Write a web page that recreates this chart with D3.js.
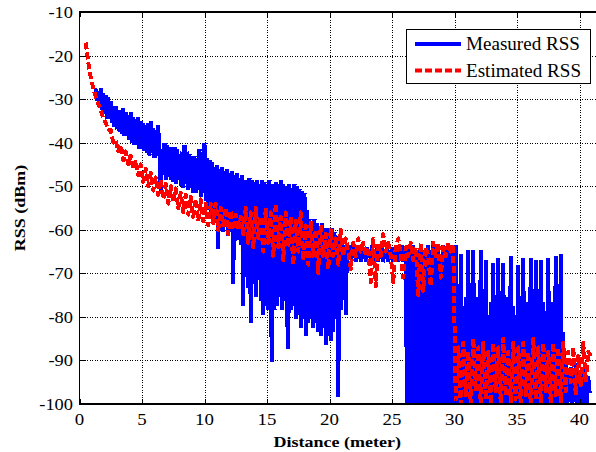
<!DOCTYPE html>
<html><head><meta charset="utf-8">
<script src="https://cdn.jsdelivr.net/npm/d3@7"></script>
<style>body{margin:0;background:#fff}</style>
</head><body><svg id="c" width="596" height="452"></svg>
<script>
// ---- data ----
const xTicks = [0, 5, 10, 15, 20, 25, 30, 35, 40];
const yTicks = [-100, -90, -80, -70, -60, -50, -40, -30, -20, -10];
const seriesNames = ["Measured RSS", "Estimated RSS"];
const measuredStart = 1.3, measuredStep = 0.1;    // metres
const estimatedStart = 0.5, estimatedStep = 0.2;  // metres
const measuredRSS = [
  -28,-30,-28.5,-31,-28,-32,-29,-33,-29.5,-34,-30,-34,-31,-35,-32,-36,-32,-36.5,-33,-37,
  -33,-37.5,-32.5,-38,-33.5,-38,-34,-39,-33.5,-39.5,-34.5,-40,-35,-40,-34.5,-41,-35.5,-41,-36,-41.5,
  -36.5,-42,-36,-42.5,-35.5,-42,-37,-43,-37.5,-42.5,-36.5,-43,-51,-42,-47,-40.5,-48,-41,-47.5,-41.5,
  -48,-42,-48.5,-41.5,-49,-42,-48,-43,-49.5,-42.5,-50,-41,-49,-42.5,-50.5,-43,-50,-44,-51,-43.5,
  -51,-44,-50.5,-42,-52,-45,-51,-40.5,-53,-44,-55,-44.5,-56,-45,-57,-46,-58,-45.5,-64,-46.5,
  -59,-46,-60,-47,-59,-46.5,-61,-47.5,-60,-47,-72,-48,-61,-47.5,-62,-48.5,-63,-48,-77,-49,
  -70,-49,-73,-48.5,-81,-49,-72,-49.5,-75,-49,-71,-50,-76,-49,-79,-49.5,-77,-50,-78,-49,
  -76,-90,-50,-78,-49.5,-77,-50,-75,-49,-78,-50,-76,-50.5,-79,-87,-50,-78,-51,-77,-50,
  -80,-50.5,-79,-51,-82,-51.5,-80,-52,-84,-56,-81,-58,-80,-59,-82,-58,-81,-59,-83,-60,
  -84,-59,-82,-60,-86,-60,-84,-61,-85,-60,-83,-61,-80,-62,-98,-62,-78,-63,-66,-64,
  -79,-64,-66,-64,-66.5,-64.5,-66,-64,-67,-64.5,-66,-65,-67,-64,-66,-65,-67,-64.5,-66,-65,
  -66.5,-64,-67,-65,-66,-64.5,-67,-65,-66,-64,-67,-65.5,-66,-64,-67,-65,-66.5,-64.5,-67,-65,
  -66,-64.5,-67,-65,-66,-64,-67,-65,-66,-100,-64,-100,-65,-100,-64,-100,-66,-100,-65,-100,
  -64,-100,-65,-100,-66,-100,-64,-100,-65,-100,-63,-100,-65,-100,-64,-100,-66,-100,-64,-100,
  -65,-100,-64,-100,-65,-100,-64,-100,-64,-100,-77,-100,-66,-100,-78,-100,-76,-100,-65,-100,
  -77,-100,-65,-100,-79,-100,-76,-100,-65,-100,-78,-100,-67.5,-100,-80,-100,-77,-100,-68,-100,
  -78,-100,-67,-100,-77,-100,-68,-100,-79,-100,-76,-100,-66.5,-100,-78,-100,-80,-100,-68.5,-100,
  -76,-100,-67,-100,-79,-100,-77,-100,-67,-100,-80,-100,-67.5,-100,-78,-100,-67.5,-100,-77,-100,
  -79,-100,-67,-100,-78,-100,-77,-100,-66.5,-100,-80,-100,-66,-100,-84,-100,-91,-100,-93,-99,
  -92,-100,-94,-99,-91,-100,-93,-100,-95,-99,-92,-100,-95,-100,-94,-97
];
const estimatedRSS = [
  -17,-21.5,-25,-27.5,-29.5,-31,-32.5,-34.5,-35.5,-37,
  -37,-40,-39.5,-42,-40.5,-44,-42,-45,-43,-46,
  -44,-47.5,-45,-49,-46,-50,-47,-51,-48,-52,
  -48.5,-53,-49.5,-54,-50,-53.5,-50.5,-55,-51.5,-56,
  -52,-56.5,-52.5,-57,-53,-58,-53,-58,-54,-59,
  -54,-58.5,-54,-60,-55,-59,-55,-61,-55.5,-60,
  -56.5,-60,-57,-61,-55,-63,-56,-64,-55,-62,
  -57,-65,-55,-63,-56,-66,-54,-64,-57,-67,
  -56,-64,-57,-68,-58,-65,-56,-67,-59,-68,
  -58,-66,-60,-70,-59,-66,-61,-69,-60,-66,
  -62,-68,-60,-66,-62,-65,-69,-63,-66,-62,
  -65,-63,-66,-64,-72,-62,-73,-63,-66,-61,
  -65,-63,-66,-72,-64,-62,-66,-71,-64,-66,
  -63,-67,-64,-75,-63,-74,-64,-66,-73,-63,
  -66,-63,-71,-64,-66,-63,-65,-64,-99,-87,
  -100,-86,-98,-88,-100,-85,-97,-87,-100,-86,
  -99,-88,-100,-86,-97,-87,-100,-85,-98,-88,
  -100,-86,-99,-87,-100,-86,-98,-88,-100,-85,
  -99,-87,-100,-86,-97,-88,-100,-86,-98,-87,
  -100,-86,-97,-88,-95,-87,-98,-89,-96,-86,
  -95,-88,-89
];

// ---- layout ----
const W = 596, H = 452;
const L = 79.5, T = 12, R = 597, B = 404;
const svg = d3.select("#c");
const x = d3.scaleLinear().domain([0, 41.4]).range([L, R]);
const y = d3.scaleLinear().domain([-100, -10]).range([B, T]);
const FONT = "'Liberation Serif','Times New Roman',serif";

function stretch(sel, f) {
  sel.each(function () {
    const w = this.getComputedTextLength();
    this.setAttribute("textLength", w * f);
    this.setAttribute("lengthAdjust", "spacingAndGlyphs");
  });
}

svg.append("rect").attr("width", W).attr("height", H).attr("fill", "#fff");
svg.append("defs").append("clipPath").attr("id", "clip")
  .append("rect").attr("x", L).attr("y", T).attr("width", R - L).attr("height", B - T);

// grid
const grid = svg.append("g").attr("stroke", "#000").attr("stroke-width", 1)
  .attr("stroke-dasharray", "1,1.5").attr("shape-rendering", "crispEdges");
grid.selectAll(".gx").data(xTicks.filter(t => t > 0)).join("line")
  .attr("x1", d => Math.round(x(d)) + 0.5).attr("x2", d => Math.round(x(d)) + 0.5)
  .attr("y1", T).attr("y2", B);
grid.selectAll(".gy").data(yTicks.filter(t => t > -100 && t < -10)).join("line")
  .attr("y1", d => Math.round(y(d)) + 0.5).attr("y2", d => Math.round(y(d)) + 0.5)
  .attr("x1", L).attr("x2", R);

// data
const plot = svg.append("g").attr("clip-path", "url(#clip)");
const measuredPts = measuredRSS.map((v, i) => [measuredStart + i * measuredStep, v]);
plot.append("g").attr("stroke", "#0000ff").attr("stroke-width", 4)
  .attr("stroke-linecap", "square").attr("shape-rendering", "crispEdges")
  .selectAll("line").data(d3.pairs(measuredPts)).join("line")
  .attr("x1", d => x(d[0][0])).attr("y1", d => y(d[0][1]))
  .attr("x2", d => x(d[1][0])).attr("y2", d => y(d[1][1]));
const lineE = d3.line().x((v, i) => x(estimatedStart + i * estimatedStep)).y(v => y(v));
plot.append("path").datum(estimatedRSS).attr("d", lineE)
  .attr("fill", "none").attr("stroke", "#ff0000").attr("stroke-width", 4)
  .attr("stroke-dasharray", "7,3").attr("stroke-linejoin", "round")
  .attr("shape-rendering", "crispEdges");

// axes box and ticks
const ax = svg.append("g").attr("stroke", "#000").attr("shape-rendering", "crispEdges");
ax.append("rect").attr("x", L).attr("y", T).attr("width", R - L).attr("height", B - T)
  .attr("fill", "none").attr("stroke-width", 1.5);
xTicks.forEach(t => {
  const px = Math.round(x(t)) + 0.5;
  ax.append("line").attr("x1", px).attr("x2", px).attr("y1", B).attr("y2", B - 5);
  ax.append("line").attr("x1", px).attr("x2", px).attr("y1", T).attr("y2", T + 5);
});
yTicks.forEach(t => {
  const py = Math.round(y(t)) + 0.5;
  ax.append("line").attr("x1", L).attr("x2", L + 5).attr("y1", py).attr("y2", py);
});

// tick labels
const xl = svg.append("g").attr("font-family", FONT).attr("font-size", 16).attr("fill", "#000");
xl.selectAll("text").data(xTicks).join("text")
  .attr("x", d => x(d)).attr("y", 425).attr("text-anchor", "middle").text(d => d)
  .call(stretch, 1.18);
const yl = svg.append("g").attr("font-family", FONT).attr("font-size", 16).attr("fill", "#000");
yl.selectAll("text").data(yTicks).join("text")
  .attr("x", 73).attr("y", d => y(d) + 6).attr("text-anchor", "end").text(d => d)
  .call(stretch, 1.15);

// axis titles
svg.append("text").attr("x", (L + R) / 2 - 1).attr("y", 447).attr("text-anchor", "middle")
  .attr("font-family", FONT).attr("font-size", 15).attr("font-weight", "bold")
  .text("Distance (meter)").call(stretch, 1.2);
svg.append("text").attr("transform", `translate(25,${(T + B) / 2}) rotate(-90)`)
  .attr("text-anchor", "middle")
  .attr("font-family", FONT).attr("font-size", 15).attr("font-weight", "bold")
  .text("RSS (dBm)").call(stretch, 1.2);

// legend
const lg = svg.append("g");
lg.append("rect").attr("x", 406.5).attr("y", 29.5).attr("width", 184).attr("height", 54)
  .attr("fill", "#fff").attr("stroke", "#000").attr("stroke-width", 1);
const legendColors = ["#0000ff", "#ff0000"];
const legendDash = [null, "7,3"];
seriesNames.forEach((n, i) => {
  const ly = 44 + i * 26.5;
  lg.append("line").attr("x1", 415).attr("x2", 461).attr("y1", ly).attr("y2", ly)
    .attr("stroke", legendColors[i]).attr("stroke-width", 4)
    .attr("stroke-dasharray", legendDash[i]);
  lg.append("text").attr("x", 466).attr("y", ly + 6).attr("font-family", FONT)
    .attr("font-size", 18).attr("fill", "#000").text(n).call(stretch, 1.06);
});
</script>
</body></html>
